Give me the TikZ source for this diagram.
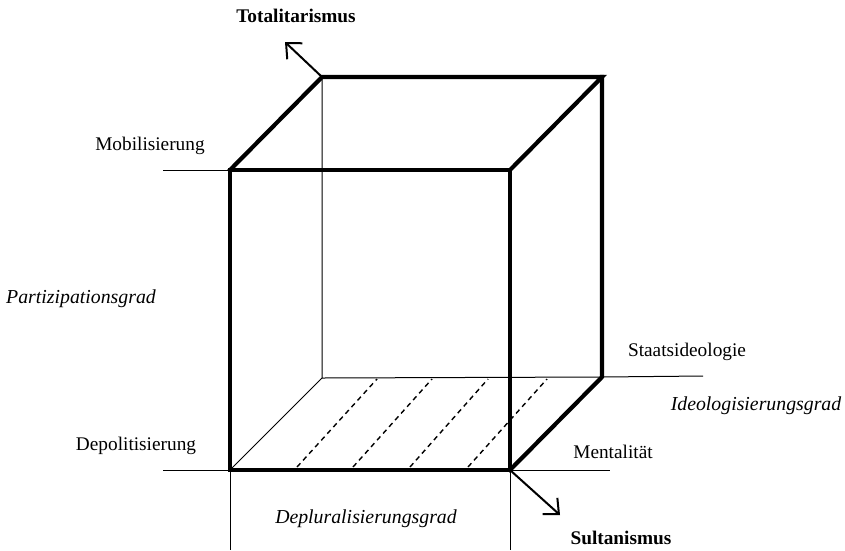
\documentclass[tikz,border=0pt]{standalone}
\usepackage{fontspec}
\setmainfont{Liberation Serif}
\usepackage{tikz}
\usetikzlibrary{arrows.meta}

\tikzset{
  edge/.style = {line width = 4.2pt, line join = miter, line cap = rect},
  hidden/.style = {line width = 1pt},
  axis/.style = {line width = 1pt},
  hatch/.style = {line width = 1.4pt, dash pattern = on 5pt off 4pt},
  pole/.style = {line width = 2pt, -{Straight Barb[length = 12pt, width = 22pt, line width = 2pt]}},
  lbl/.style = {font = \fontsize{19.3}{22}\selectfont, inner sep = 0pt},
  lblit/.style = {lbl, font = \fontsize{19.8}{22}\selectfont\itshape},
  lblbf/.style = {lbl, font = \fontsize{19.3}{22}\selectfont\bfseries}
}

\begin{document}
\begin{tikzpicture}[x = 1pt, y = -1pt]
 \useasboundingbox (0, 0) rectangle (845, 550);
  % corners of the cube
  \coordinate (fa) at (230, 170);
  \coordinate (fb) at (510, 170);
  \coordinate (fc) at (510, 470);
  \coordinate (fd) at (230, 470);
  \coordinate (ba) at (322, 77);
  \coordinate (bb) at (602, 77);
  \coordinate (bc) at (602, 377);
  \coordinate (bd) at (322, 378);
  % free ends of the scale lines
  \coordinate (mob) at (163, 170);
  \coordinate (depol) at (163, 470);
  \coordinate (left) at (230, 550);
  \coordinate (right) at (510, 550);
  \coordinate (ment) at (610, 470);
  \coordinate (ideo) at (703, 376);
  \coordinate (tot) at (285, 42);
  \coordinate (sul) at (560, 515);
  % hidden edges and scale lines
  \draw[hidden] (ba) -- (bd) -- (bc);
  \draw[hidden] (fd) -- (bd);
  \draw[axis] (mob) -- (fa);
  \draw[axis] (depol) -- (fd) -- (left);
  \draw[axis] (fc) -- (right);
  \draw[axis] (fc) -- (ment);
  \draw[axis] (bc) -- (ideo);
  % bottom face
  \foreach \xa/\xb in {297/377, 353/432, 410/488, 468/547}
   \draw[hatch] (\xa, 467) -- (\xb, 379);
  % visible edges
  \draw[edge] (fa) -- (fb) -- (fc) -- (fd) -- cycle;
  \draw[edge] (fa) -- (ba) -- (bb) -- (fb);
  \draw[edge] (bb) -- (bc) -- (fc);
  % poles
  \draw[pole] (ba) -- (tot);
  \draw[pole] (fc) -- (sul);
  % labels
  \node[lblbf] (totl) at (296, 16) {Totalitarismus};
  \node[lblbf] (sull) at (621, 538) {Sultanismus};
  \node[lbl] (mobl) at (150, 146) {Mobilisierung};
  \node[lbl] (depoll) at (136, 446) {Depolitisierung};
  \node[lbl] (staat) at (687, 352) {Staatsideologie};
  \node[lbl] (mentl) at (613, 452) {Mentalität};
  \node[lblit] (part) at (81, 299) {Partizipationsgrad};
  \node[lblit] (deplu) at (366, 519) {Depluralisierungsgrad};
  \node[lblit] (ideol) at (756, 406) {Ideologisierungsgrad};
 \end{tikzpicture}
\end{document}
